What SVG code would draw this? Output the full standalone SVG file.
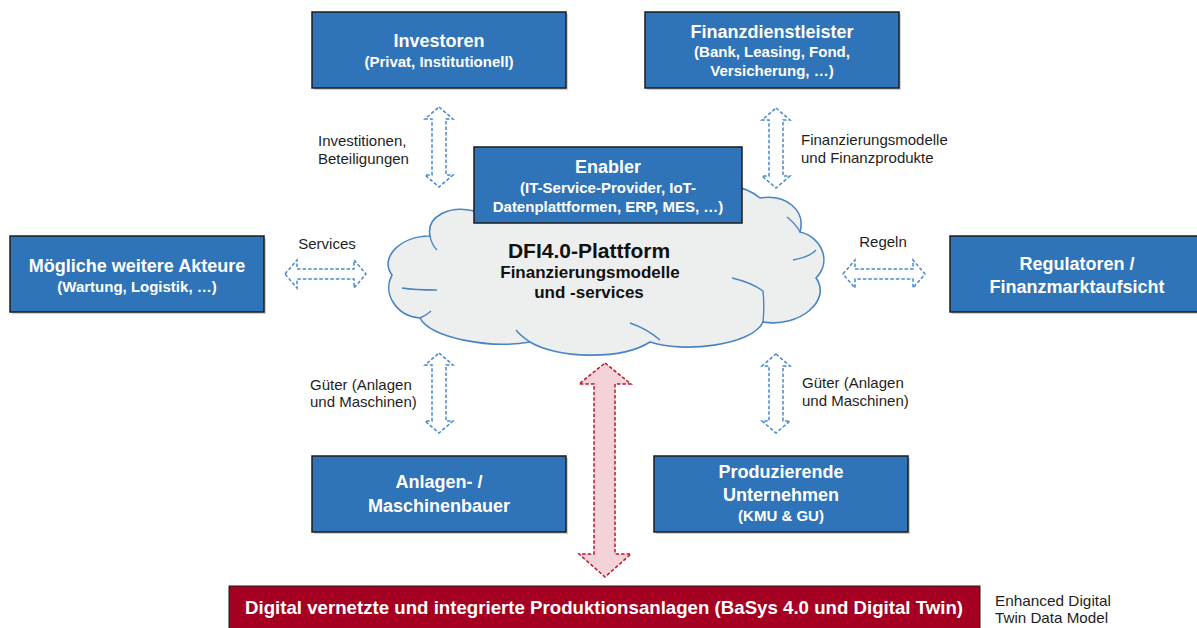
<svg xmlns="http://www.w3.org/2000/svg" width="1197" height="628" viewBox="0 0 1197 628">
<defs>
<style>
.box{fill:#2F74B8;stroke:#1c1c1c;stroke-width:1.5}
.shadow{fill:#9a9a9a;opacity:0.45}
.t{font-family:"Liberation Sans",Arial,sans-serif;font-weight:bold;fill:#fff;text-anchor:middle}
.h{font-size:18px}
.s{font-size:15px}
.lbl{font-family:"Liberation Sans",Arial,sans-serif;font-size:15px;fill:#1e1e1e}
.mid{text-anchor:middle}
.barrow{fill:#fff;stroke:#4A88CC;stroke-width:1.5;stroke-dasharray:3.5 2}
.rarrow{fill:#F3D3D7;stroke:#C0142E;stroke-width:1.5;stroke-dasharray:3.5 2}
.cloud{fill:#EDEFEF;stroke:#4A84C4;stroke-width:1.6}
.inner{fill:none;stroke:#4A84C4;stroke-width:1.4}
.ct{font-family:"Liberation Sans",Arial,sans-serif;font-weight:bold;fill:#111;text-anchor:middle}
</style>
</defs>
<rect width="1197" height="628" fill="#fff"/>

<g id="cloud">
<path class="cloud" d="M 474,211 C 450,205 426,216 430,236 C 400,236 379,258 392,275 C 382,293 396,316 420,318 C 430,338 490,349 530,342 C 556,358 620,361 650,342 C 682,353 752,346 763,322 C 800,328 832,300 816,278 C 832,262 822,237 800,232 C 806,210 786,194 760,198 C 745,185 720,182 700,190 C 670,178 620,180 600,192 C 570,178 510,180 490,195 C 478,198 474,205 474,211 Z"/>
<path class="inner" d="M 430,236 C 431,242 433,246 437,250"/>
<path class="inner" d="M 402,288 C 414,290 426,290 437,290"/>
<path class="inner" d="M 420,318 C 424,316 428,314 431,311"/>
<path class="inner" d="M 530,342 C 524,338 519,334 516,330"/>
<path class="inner" d="M 630,323 C 642,327 652,333 660,340"/>
<path class="inner" d="M 732,278 C 745,281 755,285 763,291 C 764,300 764,312 763,322"/>
<path class="inner" d="M 793,260 C 803,258 812,255 816,250"/>
<path class="inner" d="M 800,232 C 797,226 792,221 787,217"/>
<text class="ct" x="589" y="258" font-size="21">DFI4.0-Plattform</text>
<text class="ct" x="590" y="278" font-size="17">Finanzierungsmodelle</text>
<text class="ct" x="589" y="298" font-size="17">und -services</text>
</g>

<g id="connectors">
<path class="barrow" d="M 439,107 L 453,119 L 446,119 L 446,175 L 453,175 L 439,187 L 425,175 L 432,175 L 432,119 L 425,119 Z"/>
<path class="barrow" d="M 776,108 L 790,120 L 783,120 L 783,176 L 790,176 L 776,188 L 762,176 L 769,176 L 769,120 L 762,120 Z"/>
<path class="barrow" d="M 439,353 L 453,365 L 446,365 L 446,421 L 453,421 L 439,433 L 425,421 L 432,421 L 432,365 L 425,365 Z"/>
<path class="barrow" d="M 776,354 L 790,366 L 783,366 L 783,421 L 790,421 L 776,433 L 762,421 L 769,421 L 769,366 L 762,366 Z"/>
<path class="barrow" d="M 285,274 L 297,260 L 297,269 L 354,269 L 354,260 L 366,274 L 354,288 L 354,279 L 297,279 L 297,288 Z"/>
<path class="barrow" d="M 843,274 L 855,260 L 855,269 L 913,269 L 913,260 L 925,274 L 913,288 L 913,279 L 855,279 L 855,288 Z"/>
<path class="rarrow" d="M 605,363 L 631,384 L 615,384 L 615,554 L 631,554 L 605,577 L 579,554 L 594,554 L 594,384 L 579,384 Z"/>
<text class="lbl" x="318" y="146">Investitionen,</text>
<text class="lbl" x="318" y="164">Beteiligungen</text>
<text class="lbl" x="801" y="145">Finanzierungsmodelle</text>
<text class="lbl" x="801" y="163">und Finanzprodukte</text>
<text class="lbl mid" x="327" y="249">Services</text>
<text class="lbl mid" x="883" y="247">Regeln</text>
<text class="lbl" x="310" y="390">Güter (Anlagen</text>
<text class="lbl" x="310" y="407">und Maschinen)</text>
<text class="lbl" x="802" y="388">Güter (Anlagen</text>
<text class="lbl" x="802" y="406">und Maschinen)</text>
</g>

<g id="investoren">
<rect class="shadow" x="314" y="14" width="254" height="76"/>
<rect class="box" x="312" y="12" width="254" height="76"/>
<text class="t h" x="439" y="47">Investoren</text>
<text class="t s" x="439" y="67">(Privat, Institutionell)</text>
</g>

<g id="finanzdienstleister">
<rect class="shadow" x="647" y="14" width="254" height="76"/>
<rect class="box" x="645" y="12" width="254" height="76"/>
<text class="t h" x="772" y="38">Finanzdienstleister</text>
<text class="t s" x="772" y="57">(Bank, Leasing, Fond,</text>
<text class="t s" x="772" y="76">Versicherung, …)</text>
</g>

<g id="enabler">
<rect class="box" x="474" y="147" width="268" height="76"/>
<text class="t h" x="608" y="173">Enabler</text>
<text class="t s" x="608" y="193">(IT-Service-Provider, IoT-</text>
<text class="t s" x="608" y="212">Datenplattformen, ERP, MES, …)</text>
</g>

<g id="akteure">
<rect class="shadow" x="12" y="238" width="254" height="76"/>
<rect class="box" x="10" y="236" width="254" height="76"/>
<text class="t h" x="137" y="272">Mögliche weitere Akteure</text>
<text class="t s" x="137" y="292">(Wartung, Logistik, …)</text>
</g>

<g id="regulatoren">
<rect class="shadow" x="952" y="238" width="254" height="76"/>
<rect class="box" x="950" y="236" width="254" height="76"/>
<text class="t h" x="1077" y="270">Regulatoren /</text>
<text class="t h" x="1077" y="293">Finanzmarktaufsicht</text>
</g>

<g id="anlagenbauer">
<rect class="shadow" x="314" y="458" width="254" height="76"/>
<rect class="box" x="312" y="456" width="254" height="76"/>
<text class="t h" x="439" y="488">Anlagen- /</text>
<text class="t h" x="439" y="512">Maschinenbauer</text>
</g>

<g id="produzierende">
<rect class="shadow" x="656" y="458" width="254" height="76"/>
<rect class="box" x="654" y="456" width="254" height="76"/>
<text class="t h" x="781" y="478">Produzierende</text>
<text class="t h" x="781" y="501">Unternehmen</text>
<text class="t s" x="781" y="521">(KMU &amp; GU)</text>
</g>

<g id="produktionsanlagen">
<rect x="229" y="586" width="751" height="50" fill="#A50021" stroke="#1c1c1c" stroke-width="1"/>
<text class="t" x="604" y="614" font-size="19" textLength="718" lengthAdjust="spacingAndGlyphs">Digital vernetzte und integrierte Produktionsanlagen (BaSys 4.0 und Digital Twin)</text>
</g>

<g id="note">
<text class="lbl" x="995" y="606" textLength="116" lengthAdjust="spacingAndGlyphs">Enhanced Digital</text>
<text class="lbl" x="995" y="623" textLength="113" lengthAdjust="spacingAndGlyphs">Twin Data Model</text>
</g>
</svg>
